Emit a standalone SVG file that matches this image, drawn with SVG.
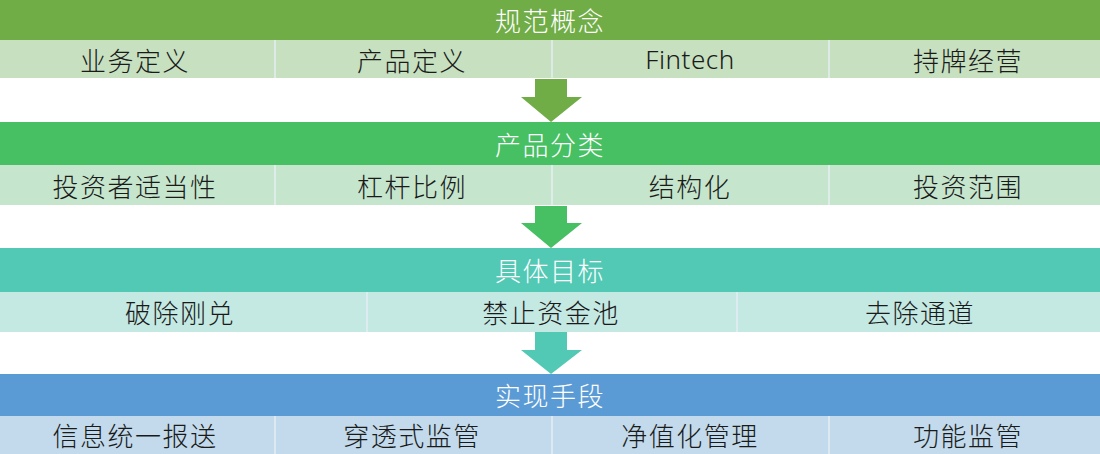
<svg xmlns="http://www.w3.org/2000/svg" width="1100" height="454" viewBox="0 0 1100 454">
<style>
text{font-family:"Noto Sans CJK SC","Noto Sans",sans-serif;font-size:26px;font-weight:300;letter-spacing:1.5px;text-anchor:middle;dominant-baseline:central}
.h{fill:#fff}.t{fill:#1a1a1a}
.d{stroke:#e6eef5;stroke-width:1.5}
</style>
<g id="band1">
<rect x="0" y="0" width="1100" height="40" fill="#70AD47"/><text class="h" x="550" y="19">规范概念</text>
<rect x="0" y="40" width="1100" height="38" fill="#C6E0C0"/>
<line class="d" x1="275" y1="40" x2="275" y2="78"/><line class="d" x1="552" y1="40" x2="552" y2="78"/><line class="d" x1="829" y1="40" x2="829" y2="78"/>
<text class="t" x="135" y="59">业务定义</text><text class="t" x="412" y="59">产品定义</text><text class="t" x="690" y="59" style="font-family:'Noto Sans',sans-serif;letter-spacing:0.5px">Fintech</text><text class="t" x="968" y="59">持牌经营</text>
</g>
<g id="band2">
<rect x="0" y="122" width="1100" height="43" fill="#47BF63"/><text class="h" x="550" y="143">产品分类</text>
<rect x="0" y="165" width="1100" height="40" fill="#C5E5CC"/>
<line class="d" x1="275" y1="165" x2="275" y2="205"/><line class="d" x1="552" y1="165" x2="552" y2="205"/><line class="d" x1="829" y1="165" x2="829" y2="205"/>
<text class="t" x="135" y="185">投资者适当性</text><text class="t" x="412" y="185">杠杆比例</text><text class="t" x="690" y="185">结构化</text><text class="t" x="968" y="185">投资范围</text>
</g>
<g id="band3">
<rect x="0" y="248" width="1100" height="44" fill="#52C9B5"/><text class="h" x="550" y="269">具体目标</text>
<rect x="0" y="292" width="1100" height="40" fill="#C4E8E2"/>
<line class="d" x1="367" y1="292" x2="367" y2="332"/><line class="d" x1="737" y1="292" x2="737" y2="332"/>
<text class="t" x="180" y="311">破除刚兑</text><text class="t" x="551" y="311">禁止资金池</text><text class="t" x="920" y="311">去除通道</text>
</g>
<g id="band4">
<rect x="0" y="374" width="1100" height="42" fill="#5B9BD5"/><text class="h" x="550" y="394">实现手段</text>
<rect x="0" y="416" width="1100" height="38" fill="#C2DAEB"/>
<line class="d" x1="275" y1="416" x2="275" y2="454"/><line class="d" x1="552" y1="416" x2="552" y2="454"/><line class="d" x1="829" y1="416" x2="829" y2="454"/>
<text class="t" x="135" y="434">信息统一报送</text><text class="t" x="412" y="434">穿透式监管</text><text class="t" x="690" y="434">净值化管理</text><text class="t" x="968" y="434">功能监管</text>
</g>
<g id="connectors">
<polygon fill="#70AD47" points="535,79 567,79 567,97 582,97 551,122 521,97 535,97"/>
<polygon fill="#47BF63" points="535,206 567,206 567,223 582,223 551,248 521,223 535,223"/>
<polygon fill="#52C9B5" points="535,332 567,332 567,350 582,350 551,374 521,350 535,350"/>
</g>
</svg>
